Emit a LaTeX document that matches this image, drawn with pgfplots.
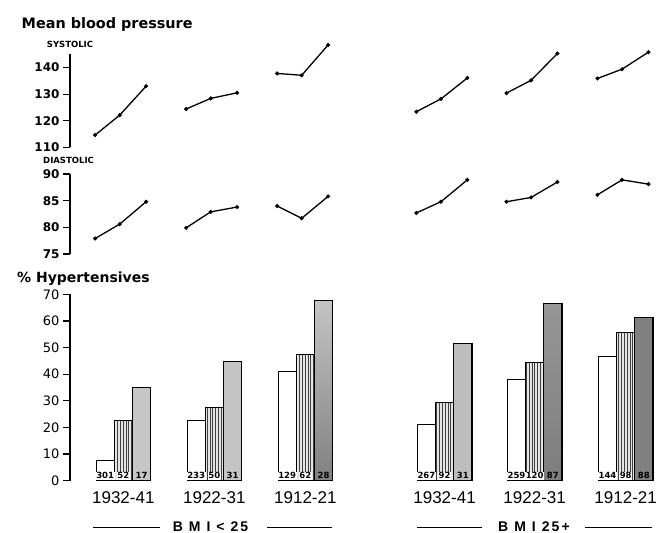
\documentclass[border=0pt]{standalone}
\usepackage{fontspec}
\setmainfont{DejaVu Sans}
\newfontfamily\helv{Liberation Sans}
\newfontfamily\helvsp[LetterSpace=15]{Liberation Sans}
\usepackage{pgfplots}
\pgfplotsset{compat=1.18}
\usepackage{pgfplotstable}
\usetikzlibrary{patterns.meta}

% mean blood pressure, three birth cohorts per group (nan breaks the line)
\pgfplotstableread{
x      sys    dia
-0.31  114.6  77.9
-0.04  122.1  80.6
0.25   133.0  84.8
nan    nan    nan
0.69   124.4  79.9
0.96   128.4  82.9
1.25   130.5  83.8
nan    nan    nan
1.69   137.8  84.0
1.96   137.1  81.7
2.25   148.5  85.8
nan    nan    nan
3.22   123.4  82.7
3.49   128.2  84.8
3.78   136.1  88.9
nan    nan    nan
4.21   130.4  84.8
4.48   135.2  85.6
4.77   145.3  88.5
nan    nan    nan
5.21   135.9  86.1
5.48   139.4  88.9
5.77   145.8  88.1
}\bp

% % hypertensives and group sizes
\pgfplotstableread{
pos   white hatch gray nw   nh   ng  base
0     7.7   22.7  34.9 301  52   17  0
1     22.5  27.6  44.7 233  50   31  0
2     41.2  47.5  67.6 129  62   28  0
3.53  21.3  29.3  51.6 267  92   31  0
4.52  38.2  44.3  66.5 259  120  87  0
5.52  46.5  55.5  61.4 144  98   88  0
}\hyp

\pgfplotsset{
  gbar0/.style={fill={rgb,255:red,198;green,198;blue,198}},
  gbar1/.style={fill={rgb,255:red,196;green,196;blue,196}},
  gbar2/.style={top color={rgb,255:red,196;green,196;blue,196}, bottom color={rgb,255:red,128;green,128;blue,128}},
  gbar3/.style={fill={rgb,255:red,190;green,190;blue,190}},
  gbar4/.style={top color={rgb,255:red,150;green,150;blue,150}, bottom color={rgb,255:red,125;green,125;blue,125}},
  gbar5/.style={fill={rgb,255:red,128;green,128;blue,128}},
  panel/.style={
    scale only axis, width=595pt, xmin=-0.586, xmax=5.952,
    anchor=south west, clip=false,
    axis y line*=left, y axis line style={line width=2.8pt},
    ytick style={line width=1.3pt, black}, major tick length=7pt,
    ytick align=outside,
    /pgf/number format/assume math mode=true,
  },
  bpline/.style={black, line width=1.3pt, mark=*, mark size=1.3pt, unbounded coords=jump},
  cnt/.style={only marks, mark=none, point meta=explicit symbolic, nodes near coords,
    nodes near coords style={anchor=south, inner sep=0.7pt, yshift=0.8pt,
      font=\fontsize{8.5}{9}\selectfont\bfseries}},
}

\begin{document}
\begin{tikzpicture}
\path[use as bounding box] (0,0) rectangle (665pt,533pt);

\node[anchor=base west, inner sep=0] at (21.5pt,504.7pt) {\fontsize{14.4}{15}\selectfont\bfseries Mean blood pressure};
\node[anchor=base west, inner sep=0] at (46.7pt,485.3pt) {\fontsize{8.5}{9}\selectfont\bfseries SYSTOLIC};
\node[anchor=base west, inner sep=0] at (43pt,369pt) {\fontsize{8.5}{9}\selectfont\bfseries DIASTOLIC};
\node[anchor=base west, inner sep=0] at (17pt,250.5pt) {\fontsize{14}{15}\selectfont\bfseries \% Hypertensives};

% systolic
\begin{axis}[panel, at={(70pt,385.7pt)}, height=93pt,
  axis x line=none, ymin=110, ymax=145, ytick={110,120,130,140},
  yticklabel style={font=\fontsize{12}{12}\selectfont\bfseries}]
\addplot[bpline] table[x=x, y=sys] {\bp};
\end{axis}

% diastolic
\begin{axis}[panel, at={(70pt,279pt)}, height=80pt,
  axis x line=none, ymin=75, ymax=90, ytick={75,80,85,90},
  yticklabel style={font=\fontsize{12}{12}\selectfont\bfseries}]
\addplot[bpline] table[x=x, y=dia] {\bp};
\end{axis}

% % hypertensives
\begin{axis}[panel, at={(70pt,52.3pt)}, height=186.4pt,
  y axis line style={line width=2pt},
  ymin=0, ymax=70, ytick={0,10,...,70},
  yticklabel style={font=\fontsize{13}{13}\selectfont},
  axis x line*=bottom, x axis line style={draw=none}, xtick style={draw=none},
  xtick={0,1,2,3.53,4.52,5.52},
  xticklabels={1932-41,1922-31,1912-21,1932-41,1922-31,1912-21},
  xticklabel style={font=\helv\fontsize{17}{17}\selectfont, anchor=base, yshift=-22.5pt}]
\addplot[ybar, bar width=0.2, bar shift=0pt, fill=white, draw=black, line width=0.8pt]
  table[x expr=\thisrow{pos}-0.2, y=white] {\hyp};
\addplot[ybar, bar width=0.2, bar shift=0pt, fill=black!10, draw=black, line width=0.9pt,
  postaction={pattern={Lines[angle=90, distance=2.8pt, line width=0.7pt]}, pattern color=black!75}]
  table[x=pos, y=hatch] {\hyp};
\pgfplotsinvokeforeach{0,...,5}{
\addplot[ybar, bar width=0.2, bar shift=0pt, gbar#1, draw=black, line width=1.3pt,
  x filter/.code={\ifnum\coordindex=#1\relax\else\def\pgfmathresult{}\fi}]
  table[x expr=\thisrow{pos}+0.2, y=gray] {\hyp};
}
\addplot[cnt, nodes near coords style={fill=white}] table[x expr=\thisrow{pos}-0.2, y=base, meta=nw] {\hyp};
\addplot[cnt, nodes near coords style={fill=white}] table[x=pos, y=base, meta=nh] {\hyp};
\addplot[cnt] table[x expr=\thisrow{pos}+0.2, y=base, meta=ng] {\hyp};
\end{axis}

% group captions
\begin{scope}[line width=0.8pt]
\draw (93pt,5.5pt) -- (160pt,5.5pt);
\draw (267pt,5.5pt) -- (332pt,5.5pt);
\node[anchor=base, inner sep=0] at (210.5pt,1.5pt) {\helvsp\fontsize{14}{14}\selectfont\bfseries B M I < 25};
\draw (417pt,5.5pt) -- (482pt,5.5pt);
\draw (585pt,5.5pt) -- (652pt,5.5pt);
\node[anchor=base, inner sep=0] at (534pt,1.5pt) {\helvsp\fontsize{14}{14}\selectfont\bfseries B M I 25+};
\end{scope}
\end{tikzpicture}
\end{document}
